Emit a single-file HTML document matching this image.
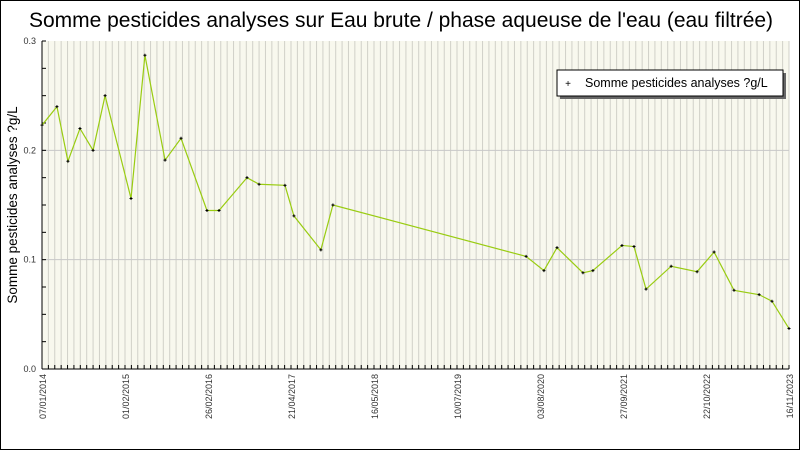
<!DOCTYPE html>
<html><head><meta charset="utf-8"><style>
body{margin:0;background:#fff}
svg{display:block;font-family:"Liberation Sans",sans-serif}
</style></head><body>
<svg width="800" height="450" viewBox="0 0 800 450" id="c">
<rect x="0.5" y="0.5" width="799" height="449" fill="#fff" stroke="#000"/>
<text x="401" y="27" text-anchor="middle" font-size="21" fill="#000">Somme pesticides analyses sur Eau brute / phase aqueuse de l'eau (eau filtrée)</text>
<rect x="42" y="41" width="747" height="328" fill="#f8f8ee"/>
<g id="grid"></g>
<g id="axes"></g>
<text transform="translate(17,205) rotate(-90)" text-anchor="middle" font-size="13.5">Somme pesticides analyses ?g/L</text>
<g id="series"></g>
<g>
<rect x="560" y="73" width="226" height="26" fill="#666"/>
<rect x="557" y="70" width="226" height="26" fill="#fff" stroke="#000"/>
<text x="568" y="87" font-size="10" text-anchor="middle">+</text>
<text x="585" y="87" font-size="12.5">Somme pesticides analyses ?g/L</text>
</g>
</svg>
<script>
const startDate = "2014-01-07";
const totalDays = 3600;
const days = [0,72,125,183,246,304,429,496,593,670,795,853,988,1046,1171,1214,1344,1402,2333,2419,2482,2607,2655,2795,2853,2911,3032,3157,3239,3335,3456,3518,3600];
const values = [0.223,0.240,0.190,0.220,0.200,0.250,0.156,0.287,0.191,0.211,0.145,0.145,0.175,0.169,0.168,0.140,0.109,0.150,0.103,0.090,0.111,0.088,0.090,0.113,0.112,0.073,0.094,0.089,0.107,0.072,0.068,0.062,0.037];
const xTickLabels = ["07/01/2014","01/02/2015","26/02/2016","21/04/2017","16/05/2018","10/07/2019","03/08/2020","27/09/2021","22/10/2022","16/11/2023"];
const yTicks = [0,0.1,0.2,0.3];
const yTickLabels = ["0.0","0.1","0.2","0.3"];

const NS="http://www.w3.org/2000/svg";
const X0=42,X1=789,Y0=369,Y1=41,YMAX=0.3;
const xs=d=>X0+d/totalDays*(X1-X0);
const ys=v=>Y0-v/YMAX*(Y0-Y1);
function mk(t,a,p){const e=document.createElementNS(NS,t);for(const k in a)e.setAttribute(k,a[k]);p.appendChild(e);return e;}
const grid=document.getElementById('grid'),axes=document.getElementById('axes'),ser=document.getElementById('series');
const nMinor=(xTickLabels.length-1)*13;
for(let i=0;i<=nMinor;i++){const x=X0+i*(X1-X0)/nMinor;
 const l=mk('line',{x1:x,x2:x,y1:Y1,y2:Y0,stroke:'#d0d0c8','stroke-width':1},grid);
 
 mk('line',{x1:x,x2:x,y1:Y0,y2:Y0-4,stroke:'#000'},axes);}
yTicks.forEach((v,i)=>{const y=ys(v);
 if(v>0&&v<YMAX){const g=mk('line',{x1:X0,x2:X1,y1:y,y2:y,stroke:'#c8c8c8'},grid);}
 const t=mk('text',{x:X0-6,y:y+3,'text-anchor':'end','font-size':9,fill:'#333'},axes);t.textContent=yTickLabels[i];
 });
for(let v=0;v<=YMAX+1e-9;v+=0.025){const y=ys(v);mk('line',{x1:X0,x2:X0+4,y1:y,y2:y,stroke:'#000'},axes);}
mk('line',{x1:X0,x2:X0,y1:Y1,y2:Y0,stroke:'#000'},axes);
mk('line',{x1:X0,x2:X1,y1:Y0,y2:Y0,stroke:'#000'},axes);
xTickLabels.forEach((s,i)=>{const x=X0+i*(X1-X0)/(xTickLabels.length-1);
 const t=mk('text',{transform:`translate(${x+4},${Y0+5}) rotate(-90)`,'text-anchor':'end','font-size':9,fill:'#333'},axes);t.textContent=s;
 });
const pts=days.map((d,i)=>xs(d)+','+ys(values[i])).join(' ');
const pl=mk('polyline',{points:pts,fill:'none',stroke:'#99cc11','stroke-width':1.2},ser);

days.forEach((d,i)=>{const x=xs(d),y=ys(values[i]);
 const g=mk('path',{d:`M${x-1.5},${y}H${x+1.5}M${x},${y-1.5}V${y+1.5}`,stroke:'#000','stroke-width':1},ser);
 });
</script>
</body></html>
